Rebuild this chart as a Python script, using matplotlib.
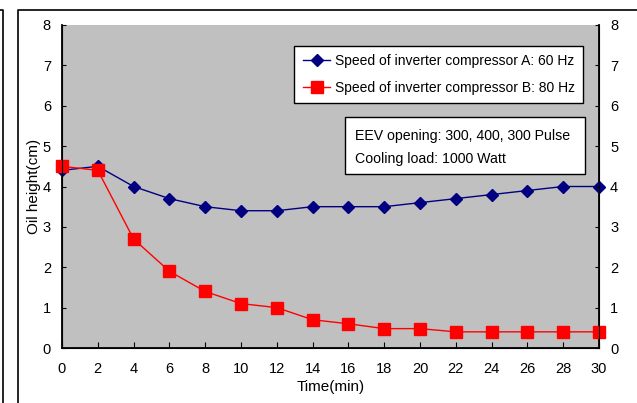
import matplotlib
matplotlib.use("Agg")
import matplotlib.pyplot as plt
from matplotlib.patches import Rectangle
from matplotlib.lines import Line2D

plt.rcParams['font.family'] = ['Liberation Sans', 'DejaVu Sans']

# data
time_min = [0, 2, 4, 6, 8, 10, 12, 14, 16, 18, 20, 22, 24, 26, 28, 30]
oil_a = [4.4, 4.5, 4.0, 3.7, 3.5, 3.4, 3.4, 3.5, 3.5, 3.5, 3.6, 3.7, 3.8, 3.9, 4.0, 4.0]
oil_b = [4.5, 4.4, 2.7, 1.9, 1.4, 1.1, 1.0, 0.7, 0.6, 0.48, 0.48, 0.4, 0.4, 0.4, 0.4, 0.4]
label_a = "Speed of inverter compressor A: 60 Hz"
label_b = "Speed of inverter compressor B: 80 Hz"
note_lines = ["EEV opening: 300, 400, 300 Pulse", "Cooling load: 1000 Watt"]
x_ticks = list(range(0, 31, 2))
y_ticks = list(range(0, 9))

W, H = 637, 403
fig = plt.figure(figsize=(W / 100, H / 100), dpi=100)

# outer frame lines (chart border)
fig.add_artist(Line2D([18 / W, 18 / W, 1.0], [0.0, 1 - 10 / H, 1 - 10 / H],
                      transform=fig.transFigure, color='black', lw=1.2))
fig.add_artist(Line2D([0.0, 3 / W, 3 / W], [1 - 10 / H, 1 - 10 / H, 0.0],
                      transform=fig.transFigure, color='black', lw=1.2))

ax = fig.add_axes([62 / W, 1 - 348 / H, (599 - 62) / W, (348 - 25) / H])
ax.set_facecolor('#c0c0c0')

ax.plot(time_min, oil_a, color='#000080', lw=1, marker='D', ms=6.5,
        label=label_a, clip_on=False, zorder=3)
ax.plot(time_min, oil_b, color='#ff0000', lw=1, marker='s', ms=8,
        label=label_b, clip_on=False, zorder=3)

ax.set_xlim(0, 30)
ax.set_ylim(0, 8)
ax.set_xticks(x_ticks)
ax.set_yticks(y_ticks)
ax.tick_params(axis='x', direction='in', length=4, pad=10, labelsize=10.5)
ax.tick_params(axis='y', direction='in', length=3, pad=8, labelsize=10.5)
for s in ['left', 'bottom']:
    ax.spines[s].set_linewidth(1.3)
ax.spines['top'].set_visible(False)
ax.spines['right'].set_linewidth(1.3)

ax2 = ax.twinx()
ax2.set_ylim(0, 8)
ax2.set_yticks(y_ticks)
ax2.tick_params(axis='y', direction='in', length=3, pad=8, labelsize=10.5)
ax2.spines['top'].set_visible(False)

ax.set_xlabel("Time(min)", fontsize=11, labelpad=3)
ax.set_ylabel("Oil height(cm)", fontsize=11, labelpad=1)

leg = ax.legend(loc='upper right', bbox_to_anchor=(0.970, 0.935), borderaxespad=0,
                fontsize=10, frameon=True, fancybox=False, edgecolor='black',
                framealpha=1, handlelength=2.0, borderpad=0.6, labelspacing=0.9,
                handletextpad=0.3)
leg.get_frame().set_linewidth(1)

ax.add_patch(Rectangle((0.527, 0.539), 0.447, 0.176, transform=ax.transAxes,
                       facecolor='white', edgecolor='black', lw=1, zorder=4))
ax.text(0.546, 0.655, note_lines[0], transform=ax.transAxes, fontsize=10.2,
        va='center', ha='left', zorder=5)
ax.text(0.546, 0.584, note_lines[1], transform=ax.transAxes, fontsize=10.2,
        va='center', ha='left', zorder=5)

fig.savefig("out.png", dpi=100)
